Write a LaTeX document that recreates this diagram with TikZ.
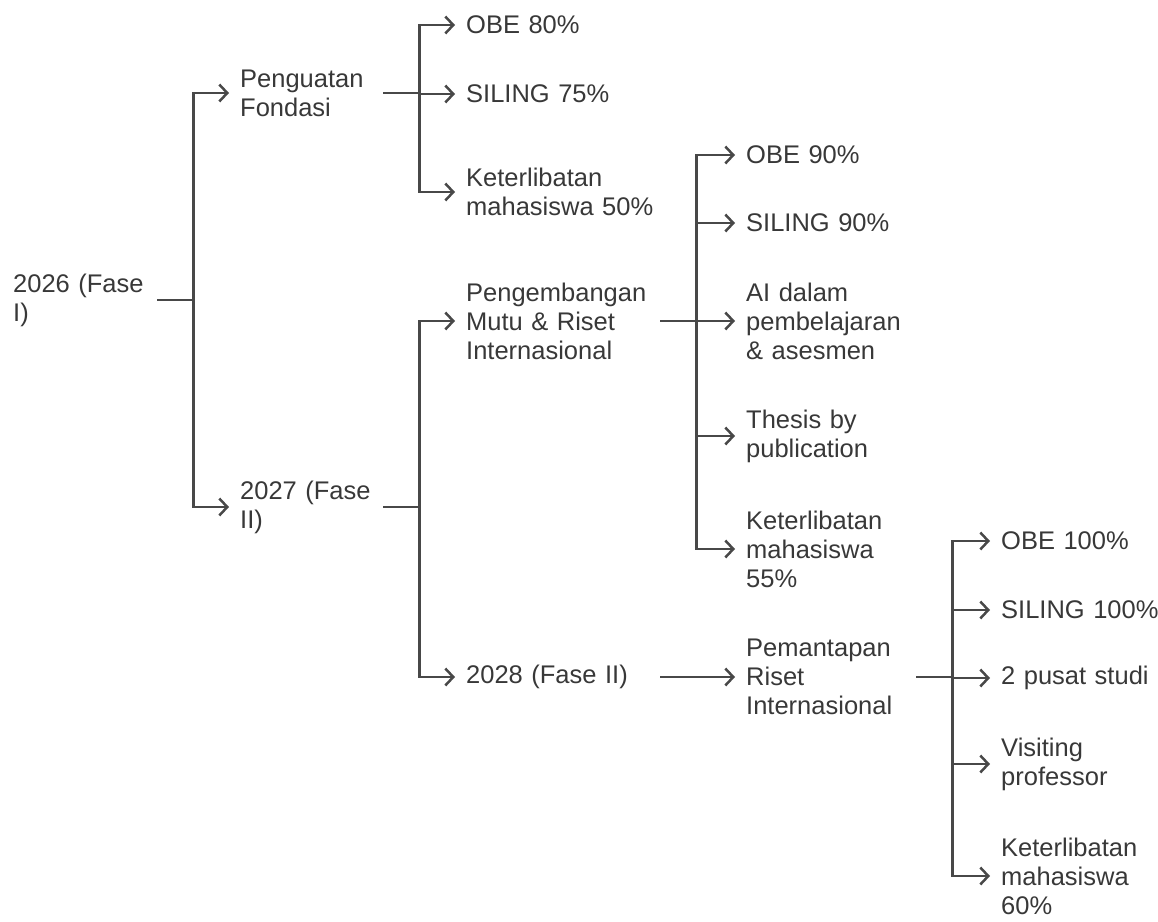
\documentclass[tikz,border=0pt]{standalone}
\usepackage{fontspec}
\setmainfont{Liberation Sans}
\usetikzlibrary{arrows.meta}
\definecolor{ink}{HTML}{383838}
\definecolor{wire}{HTML}{484848}
\begin{document}
\begin{tikzpicture}[x=1pt,y=-1pt,
  lbl/.style={anchor=west, inner xsep=11pt, inner ysep=0pt, align=left, text=ink,
    font=\fontsize{25.5}{29}\selectfont},
  lv0/.style={lbl, text width=133pt},
  lv1/.style={lbl, text width=132pt},
  lv2/.style={lbl, text width=183pt},
  lv3/.style={lbl, text width=159pt},
  lv4/.style={lbl, text width=160pt},
  link/.style={draw=wire, line width=2.5pt, -{Straight Barb[length=8pt,width=17pt]}},
  br/.style={link, to path={-- ++(36,0) |- (\tikztotarget)}}
]
\useasboundingbox (0,0) rectangle (1158,921);
% level 0
\node[lv0] (y26) at (2,300) {2026~(Fase\\I)};
% level 1
\node[lv1] (pf)  at (229,93)  {Penguatan\\Fondasi};
\node[lv1] (y27) at (229,507) {2027~(Fase\\II)};
% level 2
\node[lv2] (obe80) at (455,25)  {OBE~80\%};
\node[lv2] (sil75) at (455,94)  {SILING~75\%};
\node[lv2] (ket50) at (455,192) {Keterlibatan\\mahasiswa~50\%};
\node[lv2] (peng)  at (455,321) {Pengembangan\\Mutu~\&~Riset\\Internasional};
\node[lv2] (y28)   at (455,677) {2028~(Fase~II)};
% level 3
\node[lv3] (obe90)  at (735,155) {OBE~90\%};
\node[lv3] (sil90)  at (735,223) {SILING~90\%};
\node[lv3] (ai)     at (735,321) {AI~dalam\\pembelajaran\\\&~asesmen};
\node[lv3] (thesis) at (735,436) {Thesis~by\\publication};
\node[lv3] (ket55)  at (735,549) {Keterlibatan\\mahasiswa\\55\%};
\node[lv3] (pem)    at (735,677) {Pemantapan\\Riset\\Internasional};
% level 4
\node[lv4] (obe100) at (990,541) {OBE~100\%};
\node[lv4] (sil100) at (990,610) {SILING~100\%};
\node[lv4] (pusat)  at (990,678) {2~pusat~studi};
\node[lv4] (visit)  at (990,764) {Visiting\\professor};
\node[lv4] (ket60)  at (990,876) {Keterlibatan\\mahasiswa\\60\%};
% connectors
\draw[br] (y26.east) to (pf.west);
\draw[br] (y26.east) to (y27.west);
\draw[br] (pf.east) to (obe80.west);
\draw[br] (pf.east) to (sil75.west);
\draw[br] (pf.east) to (ket50.west);
\draw[br] (y27.east) to (peng.west);
\draw[br] (y27.east) to (y28.west);
\draw[br] (peng.east) to (obe90.west);
\draw[br] (peng.east) to (sil90.west);
\draw[br] (peng.east) to (ai.west);
\draw[br] (peng.east) to (thesis.west);
\draw[br] (peng.east) to (ket55.west);
\draw[link] (y28.east) -- (pem.west);
\draw[br] (pem.east) to (obe100.west);
\draw[br] (pem.east) to (sil100.west);
\draw[br] (pem.east) to (pusat.west);
\draw[br] (pem.east) to (visit.west);
\draw[br] (pem.east) to (ket60.west);
\end{tikzpicture}
\end{document}
